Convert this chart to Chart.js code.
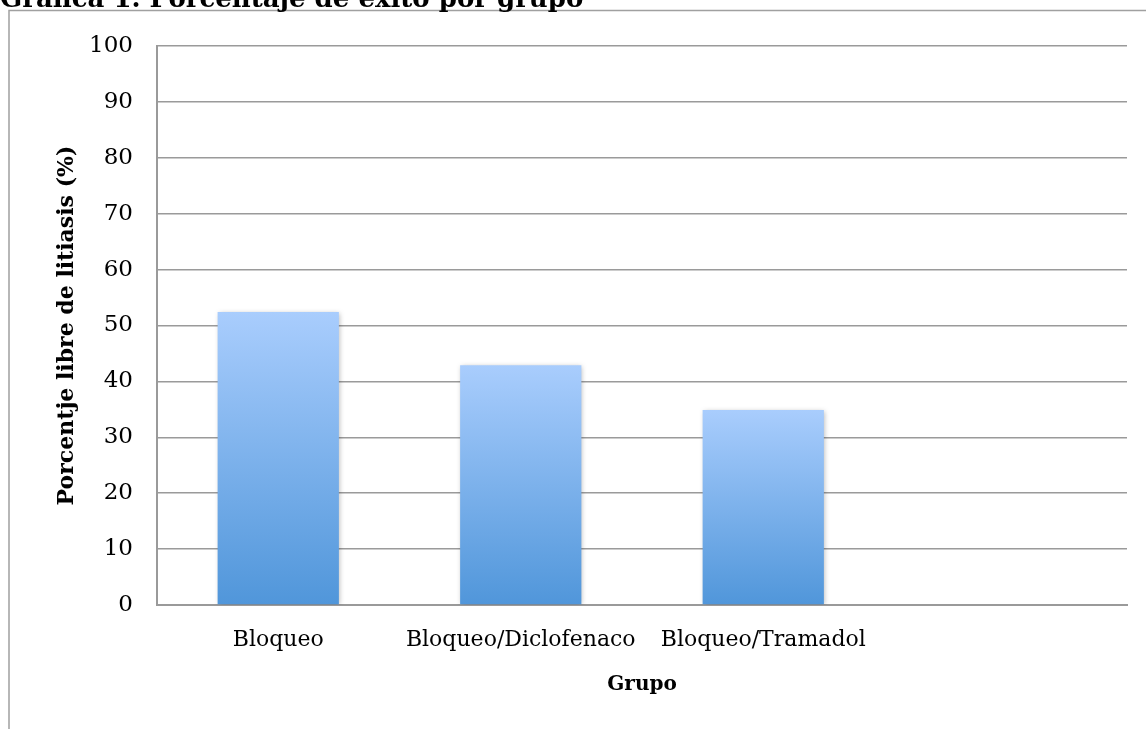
<!DOCTYPE html>
<html>
<head>
<meta charset="utf-8">
<script src="https://cdn.jsdelivr.net/npm/chart.js@4/dist/chart.umd.min.js"></script>
<style>
  html, body { margin: 0; padding: 0; background: #fff; }
  #wrap { width: 1146px; height: 729px; }
</style>
</head>
<body>
<div id="wrap"><canvas id="plot-data" width="1146" height="729"></canvas></div>
<script>
// data
const grupos = ['Bloqueo', 'Bloqueo/Diclofenaco', 'Bloqueo/Tramadol', '']
const porcentajes = [52.4, 42.9, 34.9, null]
const yTicks = [0, 10, 20, 30, 40, 50, 60, 70, 80, 90, 100]
const tituloGrafica = 'Gráfica 1. Porcentaje de éxito por grupo'
const tituloY = 'Porcentje libre de litiasis (%)'
const tituloX = 'Grupo'

const serif = "'DejaVu Serif', serif"
const gray = '#9a9a9a'

// outer frame + clipped title, like the exported word chart
const framePlugin = {
    id: 'frame',
    beforeDraw(chart) {
        const ctx = chart.ctx
        ctx.save()
        ctx.strokeStyle = '#a0a0a0'
        ctx.lineWidth = 1.5
        ctx.beginPath()
        ctx.moveTo(9, 729)
        ctx.lineTo(9, 10.5)
        ctx.lineTo(1146, 10.5)
        ctx.stroke()
        ctx.fillStyle = '#000'
        ctx.font = "bold 26px " + serif
        ctx.textBaseline = 'alphabetic'
        ctx.fillText(tituloGrafica, 0, 7)
        ctx.restore()
    }
}

// soft shadow under the bars
const shadowPlugin = {
    id: 'barShadow',
    beforeDatasetsDraw(chart) {
        const ctx = chart.ctx
        ctx.save()
        ctx.shadowColor = 'rgba(0,0,0,0.28)'
        ctx.shadowBlur = 5
        ctx.shadowOffsetX = 1
        ctx.shadowOffsetY = 1
    },
    afterDatasetsDraw(chart) {
        chart.ctx.restore()
    }
}

function barGradient(context) {
    const chart = context.chart
    const v = context.raw
    if (!chart.chartArea || v == null) return '#7fb2ec'
    const y = chart.scales.y
    const top = y.getPixelForValue(v)
    const bottom = y.getPixelForValue(0)
    const g = chart.ctx.createLinearGradient(0, top, 0, bottom)
    g.addColorStop(0, '#a9cdfd')
    g.addColorStop(1, '#5096da')
    return g
}

var ctx = document.getElementById('plot-data').getContext('2d')
var grafica = new Chart(ctx, {
    type: 'bar',
    data: {
        labels: grupos,
        datasets: [{
            data: porcentajes,
            backgroundColor: barGradient,
            borderWidth: 0,
            categoryPercentage: 1.0,
            barPercentage: 0.5
        }]
    },
    plugins: [framePlugin, shadowPlugin],
    options: {
        responsive: false,
        animation: false,
        layout: {
            padding: { left: 54, top: 46, right: 19, bottom: 32 }
        },
        plugins: {
            legend: false,
            tooltip: { enabled: false }
        },
        scales: {
            x: {
                grid: { display: false, drawTicks: false },
                border: { color: gray, width: 2 },
                ticks: {
                    color: '#000',
                    font: { family: serif, size: 22 },
                    padding: 22,
                    maxRotation: 0,
                    minRotation: 0,
                    autoSkip: false
                },
                title: {
                    display: true,
                    text: tituloX,
                    color: '#000',
                    font: { family: serif, size: 20, weight: 'bold' },
                    padding: 0
                },
                afterFit(scale) { scale.height = 92 }
            },
            y: {
                min: 0,
                max: 100,
                grid: { color: gray, lineWidth: 1.5, drawTicks: false },
                border: { color: gray, width: 2 },
                afterBuildTicks(scale) {
                    scale.ticks = yTicks.map(v => ({ value: v }))
                },
                ticks: {
                    color: '#000',
                    font: { family: serif, size: 23 },
                    padding: 24
                },
                title: {
                    display: true,
                    text: tituloY,
                    color: '#000',
                    font: { family: serif, size: 22, weight: 'bold' },
                    padding: 0
                },
                afterFit(scale) { scale.width = 103 }
            }
        }
    }
})
</script>
</body>
</html>
